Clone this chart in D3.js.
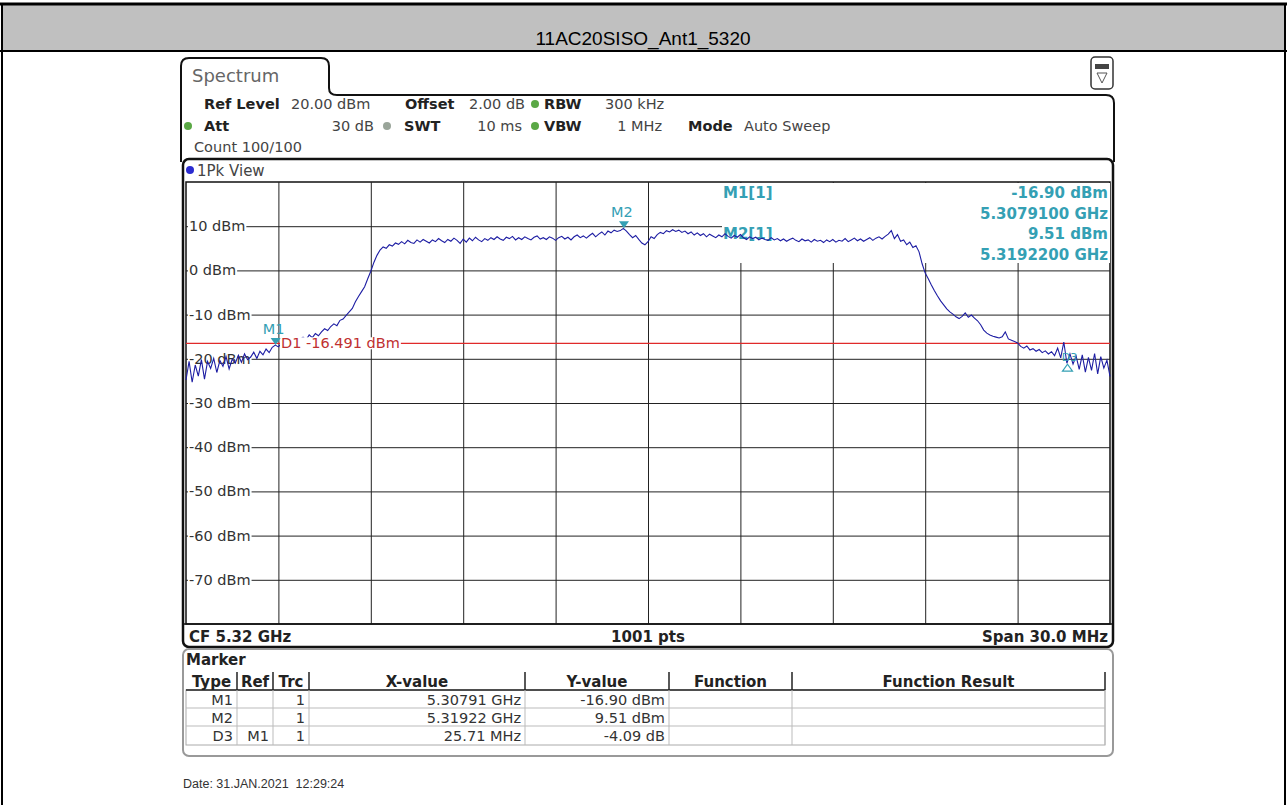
<!DOCTYPE html>
<html>
<head>
<meta charset="utf-8">
<script src="https://cdn.jsdelivr.net/npm/d3@7"></script>
<style>
body { margin: 0; background: #fff; }
text { font-family: "DejaVu Sans", Verdana, sans-serif; }
</style>
</head>
<body>
<div id="main_div"></div>
<script>
// chart values
var title = "11AC20SISO_Ant1_5320";
var f_start = 5.305, f_stop = 5.335;
var ref_top = 20, ref_bottom = -80;
var level_ticks = [10, 0, -10, -20, -30, -40, -50, -60, -70];
var freq_grid = [5.308, 5.311, 5.314, 5.317, 5.320, 5.323, 5.326, 5.329, 5.332];
var d1_level = -16.491;

// trace (dBm), every 0.1 MHz from 5.305 GHz
var trace = [
  -24.8, -20.6, -25.3, -21.4, -23.9, -20.2, -24.6, -20.6, -22.2, -19.9,
  -23.1, -20.4, -21.7, -19.5, -22.3, -20.1, -21.0, -19.2, -20.8, -18.9,
  -20.2, -19.6, -18.5, -19.9, -18.3, -19.1, -17.8, -18.6, -17.4, -16.9,
  -17.3, -16.5, -17.1, -16.2, -16.8, -15.9, -16.4, -15.6, -15.1, -15.7,
  -14.6, -15.2, -14.3, -14.8, -13.9, -13.2, -13.6, -12.7, -12.1, -12.5,
  -11.3, -11.0, -10.2, -9.4, -8.6, -7.1, -5.9, -4.8, -3.7, -1.9,
  -0.2, 1.8, 3.4, 4.6, 5.3, 5.0, 5.8, 5.5, 6.2, 5.9,
  6.5, 6.0, 6.8, 6.3, 6.1, 6.9, 6.4, 7.0, 6.6, 6.2,
  6.9, 6.5, 7.2, 6.7, 6.3, 7.0, 6.6, 7.3, 6.8, 6.1,
  7.1, 6.4, 7.3, 6.7, 7.5, 6.9, 6.5, 7.2, 6.8, 7.4,
  7.0, 7.6, 7.1, 6.8, 7.5, 7.2, 7.7, 6.9, 7.4, 7.0,
  7.6, 7.2, 6.9, 7.5, 7.8, 7.1, 7.4, 7.0, 7.6, 7.3,
  6.8, 7.4, 7.7, 7.1, 7.5, 6.9, 7.6, 8.0, 7.4, 7.8,
  7.3, 7.9, 8.4, 7.6, 8.2, 8.7, 8.0, 8.9, 8.5, 9.1,
  8.8, 9.0, 9.51, 8.9, 8.1, 7.4, 7.9, 7.0, 6.2, 5.8,
  6.5, 7.6, 7.2, 8.1, 8.6, 8.3, 9.0, 8.7, 9.2, 8.8,
  9.1, 8.6, 8.9, 8.3, 8.7, 8.0, 8.5, 7.9, 8.3, 7.6,
  8.2, 7.8, 7.4, 8.0, 7.6, 8.3, 7.7, 7.3, 7.9, 7.5,
  8.1, 7.4, 7.0, 7.6, 7.2, 7.5, 6.9, 7.3, 7.0, 6.8,
  7.4, 6.9, 7.2, 6.7, 7.1, 6.6, 7.0, 7.3, 6.8, 6.5,
  7.1, 6.7, 6.9, 6.4, 7.0, 6.6, 6.8, 6.3, 6.9, 6.5,
  7.0, 6.4, 6.8, 6.6, 7.2, 6.5, 6.9, 7.3, 6.7, 7.1,
  6.6, 7.0, 7.4, 6.8, 7.3, 7.6, 7.1, 7.7, 8.2, 9.0,
  7.2, 8.1, 6.6, 6.9, 5.8, 6.4, 5.2, 5.6, 4.2, 1.5,
  -0.6, -1.9, -3.3, -4.6, -5.8, -6.9, -7.8, -8.7, -9.4, -9.9,
  -10.5, -10.9, -10.4, -9.6, -10.6, -10.1, -10.8, -11.4, -12.3, -13.5,
  -14.2, -14.6, -14.9, -15.1, -15.3, -15.0, -13.9, -15.5, -15.8, -16.1,
  -16.4, -17.2, -17.6, -17.1, -18.0, -17.7, -18.3, -17.9, -18.6, -18.2,
  -18.9, -18.4, -19.3, -17.6, -19.8, -16.2, -21.0, -18.9, -21.2, -19.4,
  -22.4, -19.1, -23.0, -19.7, -22.6, -18.8, -23.4, -19.5, -22.1, -20.3,
  -24.0
];

var markers = [
  {name: "M1", f: 5.30791, v: -16.90},
  {name: "M2", f: 5.31922, v: 9.51}
];
var delta = {name: "D3", f: 5.33362, v: -20.99};

var readout = ["-16.90 dBm", "5.3079100 GHz", "9.51 dBm", "5.3192200 GHz"];

var table_head = ["Type", "Ref", "Trc", "X-value", "Y-value", "Function", "Function Result"];
var table_rows = [
  ["M1", "", "1", "5.30791 GHz", "-16.90 dBm", "", ""],
  ["M2", "", "1", "5.31922 GHz", "9.51 dBm", "", ""],
  ["D3", "M1", "1", "25.71 MHz", "-4.09 dB", "", ""]
];
var table_cols = [186, 237, 273, 309, 525, 669, 792, 1105];

var teal = "#34a0b4", trace_col = "#1d1da3", red = "#e02a2a";

var svg = d3.select("#main_div").append("svg").attr("width", 1287).attr("height", 805);

// page frame and title band
svg.append("rect").attr("x", 2).attr("y", 4).attr("width", 1283).attr("height", 47).attr("fill", "#c0c0c0");
svg.append("line").attr("x1", 0).attr("x2", 1287).attr("y1", 4).attr("y2", 4).attr("stroke", "#000").attr("stroke-width", 3);
svg.append("line").attr("x1", 0).attr("x2", 1287).attr("y1", 51).attr("y2", 51).attr("stroke", "#000").attr("stroke-width", 2);
svg.append("line").attr("x1", 2).attr("x2", 2).attr("y1", 4).attr("y2", 805).attr("stroke", "#000").attr("stroke-width", 2);
svg.append("line").attr("x1", 1285).attr("x2", 1285).attr("y1", 4).attr("y2", 805).attr("stroke", "#000").attr("stroke-width", 2);
svg.append("text").attr("x", 643).attr("y", 45).attr("text-anchor", "middle")
  .style("font-family", "'Liberation Sans', Arial, sans-serif").style("font-size", "19px").text(title);

// window outline with Spectrum tab
svg.append("path")
  .attr("d", "M181,162 L181,66 Q181,58 189,58 L321,58 Q329,58 329,66 L329,88 Q329,95 337,95 L1106,95 Q1114,95 1114,103 L1114,162")
  .attr("fill", "none").attr("stroke", "#111").attr("stroke-width", 2);
svg.append("text").attr("x", 192).attr("y", 82).attr("fill", "#666").style("font-size", "18px").text("Spectrum");

// icon top right
svg.append("rect").attr("x", 1091).attr("y", 57).attr("width", 22).attr("height", 32).attr("rx", 4)
  .attr("fill", "#fff").attr("stroke", "#333").attr("stroke-width", 1.5);
svg.append("rect").attr("x", 1095).attr("y", 64).attr("width", 14).attr("height", 5).attr("fill", "#444");
svg.append("path").attr("d", "M1097,73 L1107,73 L1102,83 Z").attr("fill", "none").attr("stroke", "#555");

// settings lines
var fs = "14.5px";
function txt(x, y, s, bold, anchor, col, size) {
  return svg.append("text").attr("x", x).attr("y", y).attr("text-anchor", anchor || "start")
    .attr("fill", col || "#222").style("font-size", size || fs).style("font-weight", bold ? "bold" : "normal").text(s);
}
function dot(x, y, c) {
  svg.append("circle").attr("cx", x).attr("cy", y).attr("r", 4).attr("fill", c);
}
txt(204, 109, "Ref Level", true); txt(291, 109, "20.00 dBm", false, "start", "#444");
txt(405, 109, "Offset", true); txt(469, 109, "2.00 dB", false, "start", "#444");
dot(535, 104, "#5aa845"); txt(544, 109, "RBW", true); txt(605, 109, "300 kHz", false, "start", "#444");
dot(188, 126, "#5aa845"); txt(204, 131, "Att", true); txt(374, 131, "30 dB", false, "end", "#444");
dot(387, 126, "#9aa59a"); txt(404, 131, "SWT", true); txt(522, 131, "10 ms", false, "end", "#444");
dot(535, 126, "#5aa845"); txt(544, 131, "VBW", true); txt(662, 131, "1 MHz", false, "end", "#444");
txt(688, 131, "Mode", true); txt(744, 131, "Auto Sweep", false, "start", "#444");
txt(194, 152, "Count 100/100", false, "start", "#444");

// diagram frame
svg.append("rect").attr("x", 183).attr("y", 159).attr("width", 930).attr("height", 488).attr("rx", 6)
  .attr("fill", "#fff").attr("stroke", "#111").attr("stroke-width", 2.5);
dot(190, 170, "#2b2bd0");
txt(197, 176, "1Pk View", false, "start", "#444", "15px");

// scales
var x = d3.scaleLinear().domain([f_start, f_stop]).range([186, 1110]);
var y = d3.scaleLinear().domain([ref_bottom, ref_top]).range([624, 182]);
var idx = d3.scaleLinear().domain([0, trace.length - 1]).range([f_start, f_stop]);

var plot = svg.append("g");
plot.append("rect").attr("x", 186).attr("y", 182).attr("width", 924).attr("height", 442)
  .attr("fill", "#fff").attr("stroke", "#111").attr("stroke-width", 1.5);

// grid via axes
plot.append("g").attr("transform", "translate(186,0)")
  .call(d3.axisLeft(y).tickValues(level_ticks).tickSize(-924).tickFormat(""))
  .call(function(g) { g.select(".domain").remove(); g.selectAll("line").attr("stroke", "#222"); });
plot.append("g").attr("transform", "translate(0,624)")
  .call(d3.axisBottom(x).tickValues(freq_grid).tickSize(-442).tickFormat(""))
  .call(function(g) { g.select(".domain").remove(); g.selectAll("line").attr("stroke", "#222"); });

// level labels with white background
var lab = plot.selectAll(".lvl").data(level_ticks).enter().append("g").attr("class", "lvl");
lab.append("text").attr("x", 189).attr("y", function(d) { return y(d) + 5; })
  .attr("fill", "#333").style("font-size", fs).text(function(d) { return d + " dBm"; })
  .each(function() {
    var b = this.getBBox();
    d3.select(this.parentNode).insert("rect", "text").attr("x", b.x - 1).attr("y", b.y + 1)
      .attr("width", b.width + 2).attr("height", b.height - 2).attr("fill", "#fff");
  });

// marker readout box
plot.append("rect").attr("x", 722).attr("y", 183).attr("width", 388).attr("height", 80).attr("fill", "#fff");
plot.append("text").attr("x", 723).attr("y", 198).attr("fill", teal).style("font-size", "15px").style("font-weight", "bold").text("M1[1]");
plot.append("text").attr("x", 723).attr("y", 239).attr("fill", teal).style("font-size", "15px").style("font-weight", "bold").text("M2[1]");
plot.selectAll(".ro").data(readout).enter().append("text").attr("class", "ro")
  .attr("x", 1108).attr("y", function(d, i) { return 198 + i * 20.5; }).attr("text-anchor", "end")
  .attr("fill", teal).style("font-size", "15px").style("font-weight", "bold").text(function(d) { return d; });

// D1 reference line
plot.append("line").attr("x1", 186).attr("x2", 1110).attr("y1", y(d1_level)).attr("y2", y(d1_level))
  .attr("stroke", red).attr("stroke-width", 1.3);

// trace
var line = d3.line().x(function(d, i) { return x(idx(i)); }).y(function(d) { return y(d); });
plot.append("path").datum(trace).attr("d", line).attr("fill", "none")
  .attr("stroke", trace_col).attr("stroke-width", 1.1);

// D1 label
var d1 = plot.append("text").attr("x", 281).attr("y", y(d1_level) + 5).attr("fill", "#c03030")
  .style("font-size", fs).text("D1  -16.491 dBm");
var bb = d1.node().getBBox();
plot.insert("rect", function() { return d1.node(); }).attr("x", bb.x - 1).attr("y", bb.y + 2)
  .attr("width", bb.width + 2).attr("height", bb.height - 4).attr("fill", "#fff");

// markers
var mk = plot.selectAll(".mk").data(markers).enter().append("g").attr("class", "mk");
mk.append("path").attr("d", function(d) {
  var cx = x(d.f), cy = y(d.v);
  return "M" + (cx - 5) + "," + (cy - 7) + " L" + (cx + 5) + "," + (cy - 7) + " L" + cx + "," + cy + " Z";
}).attr("fill", teal);
mk.append("text").attr("x", function(d) { return x(d.f) - 2; }).attr("y", function(d) { return y(d.v) - 11; })
  .attr("text-anchor", "middle").attr("fill", teal).style("font-size", fs).text(function(d) { return d.name; });
var dx = x(delta.f), dy = y(delta.v);
plot.append("path").attr("d", "M" + (dx - 5) + "," + (dy + 8) + " L" + (dx + 5) + "," + (dy + 8) + " L" + dx + "," + (dy + 1) + " Z")
  .attr("fill", "none").attr("stroke", teal).attr("stroke-width", 1.2);
plot.append("text").attr("x", dx + 2).attr("y", dy - 2).attr("text-anchor", "middle")
  .attr("fill", teal).style("font-size", "11px").text(delta.name);

// bottom strip
plot.append("line").attr("x1", 183).attr("x2", 1113).attr("y1", 624).attr("y2", 624).attr("stroke", "#111").attr("stroke-width", 1.5);
txt(189, 642, "CF 5.32 GHz", true, "start", "#222", "15px");
txt(648, 642, "1001 pts", true, "middle", "#222", "15px");
txt(1108, 642, "Span 30.0 MHz", true, "end", "#222", "15px");

// marker table
svg.append("rect").attr("x", 183).attr("y", 649).attr("width", 930).attr("height", 107).attr("rx", 6)
  .attr("fill", "#fff").attr("stroke", "#999").attr("stroke-width", 2);
txt(186, 665, "Marker", true, "start", "#222", "15px");
svg.append("rect").attr("x", table_cols[0]).attr("y", 690).attr("width", table_cols[7] - table_cols[0]).attr("height", 55)
  .attr("fill", "none").attr("stroke", "#aaa");
[708, 726].forEach(function(ry) {
  svg.append("line").attr("x1", table_cols[0]).attr("x2", table_cols[7]).attr("y1", ry).attr("y2", ry).attr("stroke", "#bbb");
});
svg.append("line").attr("x1", table_cols[0]).attr("x2", table_cols[7]).attr("y1", 690).attr("y2", 690).attr("stroke", "#222").attr("stroke-width", 1.5);
table_cols.slice(1).forEach(function(cx) {
  svg.append("line").attr("x1", cx).attr("x2", cx).attr("y1", 672).attr("y2", 690).attr("stroke", "#222").attr("stroke-width", 1.5);
  svg.append("line").attr("x1", cx).attr("x2", cx).attr("y1", 690).attr("y2", 745).attr("stroke", "#bbb");
});
table_head.forEach(function(h, i) {
  txt((table_cols[i] + table_cols[i + 1]) / 2, 687, h, true, "middle", "#222", "15px");
});
table_rows.forEach(function(r, j) {
  r.forEach(function(c, i) {
    if (c) txt(table_cols[i + 1] - 4, 705 + j * 18, c, false, "end", "#333", "14.5px");
  });
});

// date
svg.append("text").attr("x", 183).attr("y", 788).attr("fill", "#333")
  .style("font-family", "'Liberation Sans', Arial, sans-serif").style("font-size", "12.5px")
  .text("Date: 31.JAN.2021\u00a0\u00a012:29:24");
</script>
</body>
</html>
